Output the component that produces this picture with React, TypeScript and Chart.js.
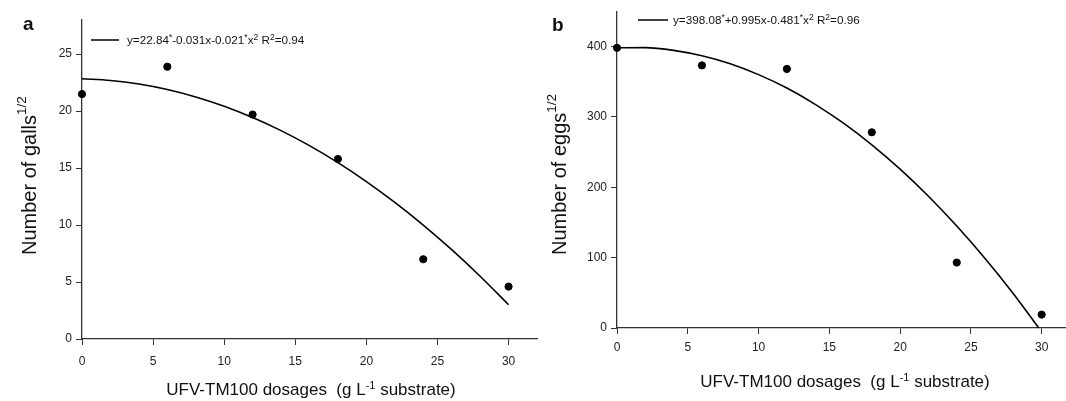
import React, { useEffect, useRef } from 'react';
import { Chart, registerables } from 'chart.js';

Chart.register(...registerables);

// ---------- data ----------
const doses = [0, 6, 12, 18, 24, 30];
const galls = [21.5, 23.9, 19.7, 15.8, 7.0, 4.6];
const eggs = [398, 373, 368, 278, 93, 19];

const fitXGalls = [0, 2, 4, 6, 8, 10, 12, 14, 16, 18, 20, 22, 24, 26, 28, 30];
const fitGalls = [22.84, 22.69, 22.38, 21.9, 21.25, 20.43, 19.44, 18.29, 16.97, 15.48, 13.82, 11.99, 10.0, 7.84, 5.51, 3.01];

const fitXEggs = [0, 2, 4, 6, 8, 10, 12, 14, 16, 18, 20, 22, 24, 26, 28, 29.8];
const fitEggs = [398.1, 398.2, 394.4, 386.7, 375.3, 359.9, 340.8, 317.7, 290.9, 260.2, 225.6, 187.2, 144.9, 98.8, 48.8, 0];

const xTicks = [0, 5, 10, 15, 20, 25, 30];
const gallsTicks = [0, 5, 10, 15, 20, 25];
const eggsTicks = [0, 100, 200, 300, 400];

const legendGalls = [
  { t: 'y=22.84' }, { t: '*', sup: true }, { t: '-0.031x-0.021' }, { t: '*', sup: true },
  { t: 'x' }, { t: '2', sup: true }, { t: ' R' }, { t: '2', sup: true }, { t: '=0.94' },
];
const legendEggs = [
  { t: 'y=398.08' }, { t: '*', sup: true }, { t: '+0.995x-0.481' }, { t: '*', sup: true },
  { t: 'x' }, { t: '2', sup: true }, { t: ' R' }, { t: '2', sup: true }, { t: '=0.96' },
];
const yTitleGalls = [{ t: 'Number of galls' }, { t: '1/2', sup: true }];
const yTitleEggs = [{ t: 'Number of eggs' }, { t: '1/2', sup: true }];
const xTitle = [{ t: 'UFV-TM100 dosages  (g L' }, { t: '-1', sup: true }, { t: ' substrate)' }];

const FAMILY = '"Liberation Sans", Arial, sans-serif';

type Seg = { t: string; sup?: boolean };

function richWidth(ctx: CanvasRenderingContext2D, segs: Seg[], size: number, supSize: number) {
  let w = 0;
  for (const s of segs) {
    ctx.font = `${s.sup ? supSize : size}px ${FAMILY}`;
    w += ctx.measureText(s.t).width;
  }
  return w;
}

function drawRich(ctx: CanvasRenderingContext2D, segs: Seg[], x: number, y: number, size: number, supSize: number, raise: number) {
  let cx = x;
  ctx.textBaseline = 'alphabetic';
  ctx.textAlign = 'left';
  for (const s of segs) {
    ctx.font = `${s.sup ? supSize : size}px ${FAMILY}`;
    ctx.fillText(s.t, cx, s.sup ? y - raise : y);
    cx += ctx.measureText(s.t).width;
  }
}

type PanelProps = {
  left: number;
  width: number;
  vals: number[];
  fitX: number[];
  fitY: number[];
  yMax: number;
  yTicks: number[];
  yW: number;
  xH: number;
  top: number;
  right: number;
  xPad: number;
  letter: string;
  letterPos: [number, number];
  legend: Seg[];
  legendLine: [number, number, number];
  legendTextX: number;
  yTitle: Seg[];
  yTitlePos: [number, number];
  xTitleCenter: [number, number];
};

function Panel(p: PanelProps) {
  const ref = useRef<HTMLCanvasElement | null>(null);
  useEffect(() => {
    if (!ref.current) return;
    const textPlugin = {
      id: 'richText' + p.letter,
      afterDraw(chart: any) {
        const ctx: CanvasRenderingContext2D = chart.ctx;
        ctx.save();
        ctx.fillStyle = '#111';
        // panel letter
        ctx.font = `bold 19px ${FAMILY}`;
        ctx.textBaseline = 'alphabetic';
        ctx.fillText(p.letter, p.letterPos[0], p.letterPos[1]);
        // legend
        const [lx0, lx1, ly] = p.legendLine;
        ctx.strokeStyle = '#000';
        ctx.lineWidth = 1.5;
        ctx.beginPath();
        ctx.moveTo(lx0, ly);
        ctx.lineTo(lx1, ly);
        ctx.stroke();
        drawRich(ctx, p.legend, p.legendTextX, ly + 4, 11.7, 8.5, 4.5);
        // x title
        const xw = richWidth(ctx, xTitle, 17, 11);
        drawRich(ctx, xTitle, p.xTitleCenter[0] - xw / 2, p.xTitleCenter[1] + 6, 17, 11, 6);
        // y title
        ctx.translate(p.yTitlePos[0], p.yTitlePos[1]);
        ctx.rotate(-Math.PI / 2);
        drawRich(ctx, p.yTitle, 0, 0, 20, 13.5, 10);
        ctx.restore();
      },
    };
    const chart = new Chart(ref.current, {
      type: 'scatter',
      data: {
        datasets: [
          {
            type: 'line',
            data: p.fitX.map((x, i) => ({ x, y: p.fitY[i] })),
            borderColor: '#000',
            borderWidth: 1.6,
            pointRadius: 0,
            fill: false,
            cubicInterpolationMode: 'monotone',
            clip: false,
          } as any,
          {
            type: 'scatter',
            data: doses.map((x, i) => ({ x, y: p.vals[i] })),
            backgroundColor: '#000',
            borderColor: '#000',
            pointRadius: 3.6,
            pointHoverRadius: 3.6,
            clip: false,
          } as any,
        ],
      },
      options: {
        animation: false,
        responsive: false,
        maintainAspectRatio: false,
        events: [],
        layout: { padding: { top: p.top, right: p.right, left: 0, bottom: 0 } },
        plugins: { legend: { display: false }, tooltip: { enabled: false }, title: { display: false } },
        scales: {
          x: {
            type: 'linear',
            min: 0,
            max: 32,
            afterBuildTicks: (s: any) => {
              s.ticks = xTicks.map((v) => ({ value: v }));
            },
            afterFit: (s: any) => {
              s.height = p.xH;
            },
            grid: { drawOnChartArea: false, drawTicks: true, tickLength: 6, color: '#333', lineWidth: 1 },
            border: { display: true, color: '#333', width: 1.3 },
            ticks: { font: { family: FAMILY, size: 12 }, color: '#222', padding: p.xPad, maxRotation: 0, autoSkip: false },
          },
          y: {
            type: 'linear',
            min: 0,
            max: p.yMax,
            afterBuildTicks: (s: any) => {
              s.ticks = p.yTicks.map((v) => ({ value: v }));
            },
            afterFit: (s: any) => {
              s.width = p.yW;
            },
            grid: { drawOnChartArea: false, drawTicks: true, tickLength: 6, color: '#333', lineWidth: 1 },
            border: { display: true, color: '#333', width: 1.3 },
            ticks: { font: { family: FAMILY, size: 12 }, color: '#222', padding: 4, autoSkip: false },
          },
        },
      } as any,
      plugins: [textPlugin],
    });
    return () => chart.destroy();
  }, []);
  return (
    <canvas
      ref={ref}
      width={p.width}
      height={401}
      style={{ position: 'absolute', left: p.left, top: 0, width: p.width, height: 401 }}
    />
  );
}

export default function App() {
  return (
    <div
      style={{
        position: 'fixed',
        left: 0,
        top: 0,
        width: 1066,
        height: 401,
        overflow: 'hidden',
        background: '#fff',
      }}
    >
      <Panel
        left={0}
        width={545}
        vals={galls}
        fitX={fitXGalls}
        fitY={fitGalls}
        yMax={28}
        yTicks={gallsTicks}
        yW={82}
        xH={62}
        top={20}
        right={8}
        xPad={9}
        letter="a"
        letterPos={[23, 30]}
        legend={legendGalls}
        legendLine={[91, 119, 40]}
        legendTextX={127}
        yTitle={yTitleGalls}
        yTitlePos={[36, 255]}
        xTitleCenter={[311, 389]}
      />
      <Panel
        left={530}
        width={545}
        vals={eggs}
        fitX={fitXEggs}
        fitY={fitEggs}
        yMax={450}
        yTicks={eggsTicks}
        yW={87}
        xH={73}
        top={8}
        right={5}
        xPad={6}
        letter="b"
        letterPos={[22, 31]}
        legend={legendEggs}
        legendLine={[108, 138, 20]}
        legendTextX={143}
        yTitle={yTitleEggs}
        yTitlePos={[36, 255]}
        xTitleCenter={[315, 381]}
      />
    </div>
  );
}
